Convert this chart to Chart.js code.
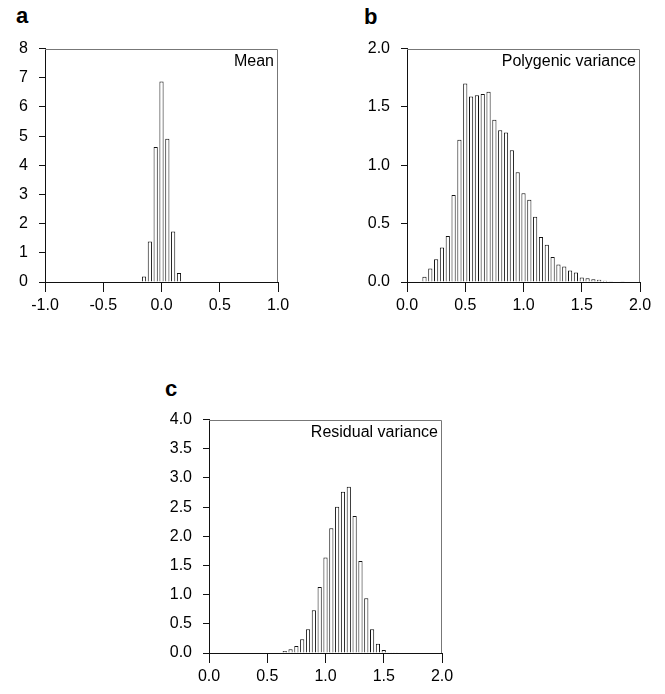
<!DOCTYPE html>
<html>
<head>
<meta charset="utf-8">
<script src="https://cdn.jsdelivr.net/npm/chart.js@4.4.1/dist/chart.umd.min.js"></script>
<style>
  html, body { margin: 0; padding: 0; background: #fff; }
  body { width: 665px; height: 694px; position: relative; overflow: hidden; }
  canvas { position: absolute; }
  .panel-letter {
    position: absolute;
    font: bold 22px/1 "Liberation Sans", Arial, sans-serif;
    color: #000;
  }
</style>
</head>
<body>
<div class="panel-letter" style="left:16px; top:5px;">a</div>
<div class="panel-letter" style="left:364px; top:6px;">b</div>
<div class="panel-letter" style="left:165px; top:378px;">c</div>

<canvas id="chartMean" width="298" height="299" style="left:0px; top:28px;"></canvas>
<canvas id="chartPoly" width="298" height="299" style="left:362px; top:28px;"></canvas>
<canvas id="chartResid" width="298" height="299" style="left:164px; top:399px;"></canvas>

<script>
// a: Mean
const meanBins = [-0.15, -0.10, -0.05, 0.00, 0.05, 0.10, 0.15, 0.20];
const meanDensity = [0.19, 1.39, 4.63, 6.87, 4.91, 1.73, 0.31, 0.02];
const meanXTicks = [-1.0, -0.5, 0.0, 0.5, 1.0];
const meanYTicks = [0, 1, 2, 3, 4, 5, 6, 7, 8];

// b: Polygenic variance
const polyBins = [0.15, 0.20, 0.25, 0.30, 0.35, 0.40, 0.45, 0.50, 0.55, 0.60,
                  0.65, 0.70, 0.75, 0.80, 0.85, 0.90, 0.95, 1.00, 1.05, 1.10,
                  1.15, 1.20, 1.25, 1.30, 1.35, 1.40, 1.45, 1.50, 1.55, 1.60,
                  1.65, 1.70, 1.75, 1.80, 1.85];
const polyDensity = [0.045, 0.115, 0.195, 0.295, 0.395, 0.745, 1.22, 1.70, 1.59, 1.60,
                     1.61, 1.63, 1.39, 1.30, 1.28, 1.13, 0.94, 0.76, 0.705, 0.56,
                     0.385, 0.32, 0.215, 0.15, 0.132, 0.098, 0.082, 0.038, 0.032, 0.023,
                     0.02, 0.011, 0.006, 0.004, 0.003];
const polyXTicks = [0.0, 0.5, 1.0, 1.5, 2.0];
const polyYTicks = [0.0, 0.5, 1.0, 1.5, 2.0];

// c: Residual variance
const residBins = [0.65, 0.70, 0.75, 0.80, 0.85, 0.90, 0.95, 1.00, 1.05, 1.10,
                   1.15, 1.20, 1.25, 1.30, 1.35, 1.40, 1.45, 1.50, 1.55, 1.60];
const residDensity = [0.034, 0.063, 0.12, 0.235, 0.406, 0.732, 1.133, 1.637, 2.14, 2.506,
                      2.764, 2.85, 2.35, 1.577, 0.94, 0.406, 0.157, 0.05, 0.014, 0.004];
const residXTicks = [0.0, 0.5, 1.0, 1.5, 2.0];
const residYTicks = [0.0, 0.5, 1.0, 1.5, 2.0, 2.5, 3.0, 3.5, 4.0];

Chart.defaults.font.family = "'Liberation Sans', Arial, sans-serif";
Chart.defaults.font.size = 16;
Chart.defaults.color = "#000";

// inside label + grey top/right frame
const cornerLabel = {
  id: "cornerLabel",
  afterDraw(chart, args, opts) {
    const { ctx, chartArea } = chart;
    ctx.save();
    ctx.strokeStyle = "#777";
    ctx.lineWidth = 1;
    ctx.beginPath();
    ctx.moveTo(chartArea.left, Math.round(chartArea.top) + 0.5);
    ctx.lineTo(Math.round(chartArea.right) - 0.5, Math.round(chartArea.top) + 0.5);
    ctx.lineTo(Math.round(chartArea.right) - 0.5, chartArea.bottom);
    ctx.stroke();
    ctx.font = "16px 'Liberation Sans', Arial, sans-serif";
    ctx.fillStyle = "#000";
    ctx.textAlign = "right";
    ctx.textBaseline = "alphabetic";
    ctx.fillText(opts.text, chartArea.right - 4, chartArea.top + 17);
    ctx.restore();
  }
};

function renderHist(id, bins, values, xTicks, yTicks, label, yDigits) {
  const canvas = document.getElementById(id);
  new Chart(canvas.getContext("2d"), {
    type: "bar",
    data: {
      datasets: [{
        data: bins.map((b, i) => ({ x: b, y: values[i] })),
        backgroundColor: "#fff",
        borderColor: "#111",
        borderWidth: 1
      }]
    },
    options: {
      responsive: false,
      animation: false,
      layout: { padding: { top: 20, right: 20, left: 0, bottom: 0 } },
      plugins: {
        legend: { display: false },
        tooltip: { enabled: false },
        cornerLabel: { text: label }
      },
      scales: {
        x: {
          type: "linear",
          offset: false,
          min: xTicks[0],
          max: xTicks[xTicks.length - 1],
          afterBuildTicks: s => { s.ticks = xTicks.map(v => ({ value: v })); },
          afterFit: s => { s.height = 45; },
          ticks: {
            padding: 4,
            maxRotation: 0,
            callback: v => v.toFixed(1)
          },
          grid: {
            display: true, offset: false, drawOnChartArea: false, drawTicks: true,
            tickLength: 10, color: "#111", tickColor: "#111", tickWidth: 1
          },
          border: { display: true, color: "#111", width: 1 }
        },
        y: {
          min: yTicks[0],
          max: yTicks[yTicks.length - 1],
          afterBuildTicks: s => { s.ticks = yTicks.map(v => ({ value: v })); },
          afterFit: s => { s.width = 45; },
          ticks: {
            padding: 11,
            callback: v => v.toFixed(yDigits)
          },
          grid: {
            display: true, drawOnChartArea: false, drawTicks: true,
            tickLength: 6, color: "#111", tickColor: "#111", tickWidth: 1
          },
          border: { display: true, color: "#111", width: 1 }
        }
      }
    },
    plugins: [cornerLabel]
  });
}

renderHist("chartMean", meanBins, meanDensity, meanXTicks, meanYTicks, "Mean", 0);
renderHist("chartPoly", polyBins, polyDensity, polyXTicks, polyYTicks, "Polygenic variance", 1);
renderHist("chartResid", residBins, residDensity, residXTicks, residYTicks, "Residual variance", 1);
</script>
</body>
</html>
